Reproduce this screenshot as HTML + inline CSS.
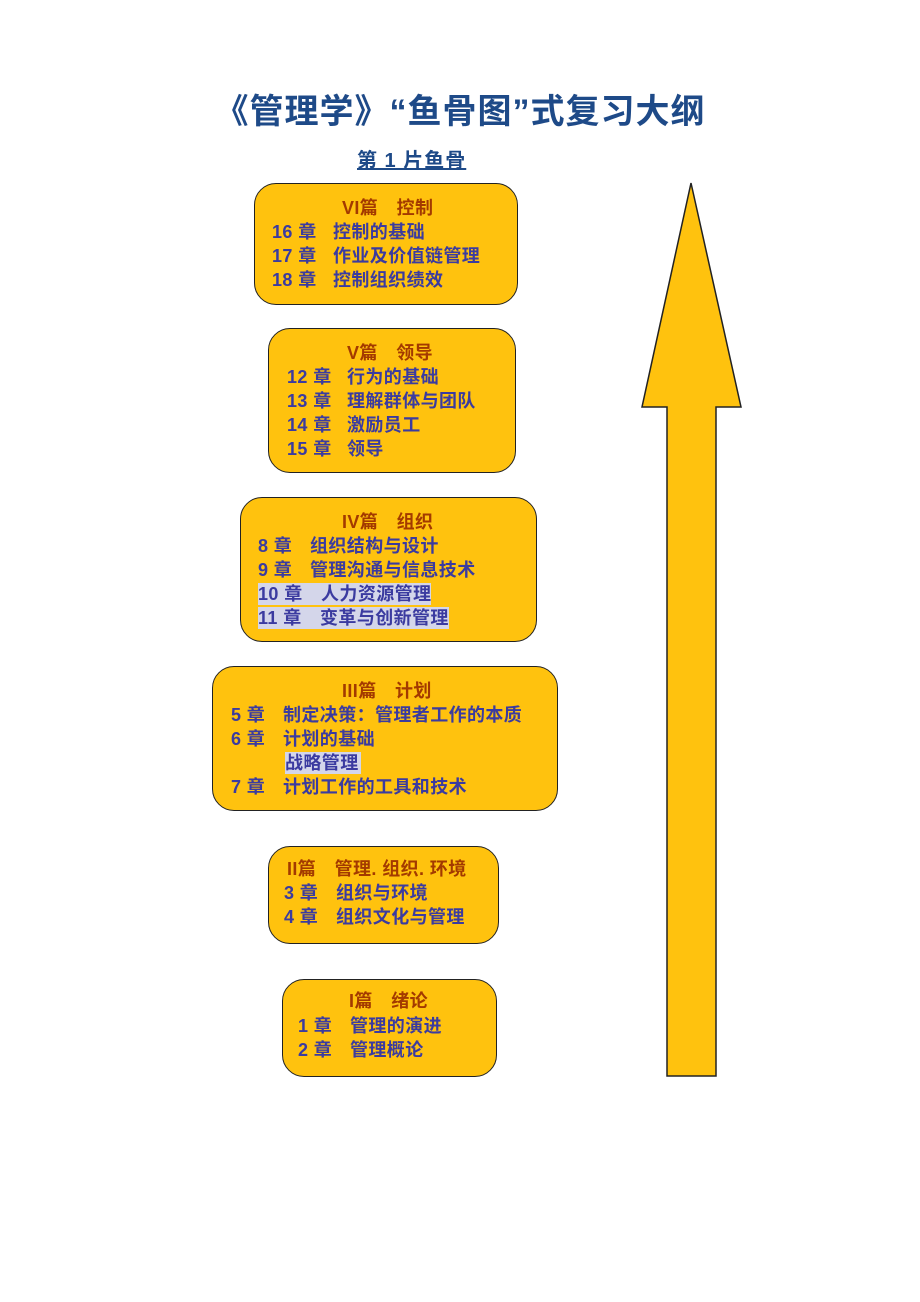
<!DOCTYPE html>
<html><head><meta charset="utf-8"><style>
body{margin:0;width:920px;height:1302px;background:#fff;position:relative;overflow:hidden;font-family:"Liberation Sans","Noto Sans CJK SC",sans-serif;}
.b{position:absolute;background:#FFC20E;border:1.5px solid #222;border-radius:22px;box-sizing:border-box;}
.t{position:absolute;font-size:18px;letter-spacing:0.4px;font-weight:bold;color:#3B3BA0;white-space:nowrap;line-height:22px;}
.h{color:#A33A00;}
.hl{background:#D4D6EA;}
</style></head><body>
<div class="t" style="left:0;width:920px;text-align:center;top:92px;font-size:34px;line-height:40px;color:#1E4A88;letter-spacing:1px">《管理学》“鱼骨图”式复习大纲</div>
<div class="t" style="left:357px;top:149px;font-size:20px;line-height:24px;color:#1E4A88;text-decoration:underline;letter-spacing:1px">第 1 片鱼骨</div>

<svg style="position:absolute;left:0;top:0" width="920" height="1302"><polygon points="691,183 741,407 716,407 716,1076 667,1076 667,407 642,407" fill="#FFC20E" stroke="#222" stroke-width="1.5"/></svg>

<div class="b" style="left:254px;top:183px;width:264px;height:122px"></div>
<div class="t h" style="left:342px;top:197px">VI篇　控制</div>
<div class="t" style="left:272px;top:221px">16 章</div><div class="t" style="left:333px;top:221px">控制的基础</div>
<div class="t" style="left:272px;top:245px">17 章</div><div class="t" style="left:333px;top:245px">作业及价值链管理</div>
<div class="t" style="left:272px;top:269px">18 章</div><div class="t" style="left:333px;top:269px">控制组织绩效</div>

<div class="b" style="left:268px;top:328px;width:248px;height:145px"></div>
<div class="t h" style="left:347px;top:342px">V篇　领导</div>
<div class="t" style="left:287px;top:366px">12 章</div><div class="t" style="left:347px;top:366px">行为的基础</div>
<div class="t" style="left:287px;top:390px">13 章</div><div class="t" style="left:347px;top:390px">理解群体与团队</div>
<div class="t" style="left:287px;top:414px">14 章</div><div class="t" style="left:347px;top:414px">激励员工</div>
<div class="t" style="left:287px;top:438px">15 章</div><div class="t" style="left:347px;top:438px">领导</div>

<div class="b" style="left:240px;top:497px;width:297px;height:145px"></div>
<div class="t h" style="left:342px;top:511px">IV篇　组织</div>
<div class="t" style="left:258px;top:535px">8 章</div><div class="t" style="left:310px;top:535px">组织结构与设计</div>
<div class="t" style="left:258px;top:559px">9 章</div><div class="t" style="left:310px;top:559px">管理沟通与信息技术</div>
<div class="t hl" style="left:258px;top:583px;width:173px;overflow:hidden">10 章　人力资源管理</div>
<div class="t hl" style="left:258px;top:607px;width:191px;overflow:hidden">11 章　变革与创新管理</div>

<div class="b" style="left:212px;top:666px;width:346px;height:145px"></div>
<div class="t h" style="left:342px;top:680px">III篇　计划</div>
<div class="t" style="left:231px;top:704px">5 章</div><div class="t" style="left:283px;top:704px">制定决策：管理者工作的本质</div>
<div class="t" style="left:231px;top:728px">6 章</div><div class="t" style="left:283px;top:728px">计划的基础</div>
<div class="t hl" style="left:285px;top:752px;padding-right:2px">战略管理</div>
<div class="t" style="left:231px;top:776px">7 章</div><div class="t" style="left:283px;top:776px">计划工作的工具和技术</div>

<div class="b" style="left:268px;top:846px;width:231px;height:98px"></div>
<div class="t h" style="left:287px;top:858px">II篇　管理. 组织. 环境</div>
<div class="t" style="left:284px;top:882px">3 章</div><div class="t" style="left:336px;top:882px">组织与环境</div>
<div class="t" style="left:284px;top:906px">4 章</div><div class="t" style="left:336px;top:906px">组织文化与管理</div>

<div class="b" style="left:282px;top:979px;width:215px;height:98px"></div>
<div class="t h" style="left:349px;top:990px">I篇　绪论</div>
<div class="t" style="left:298px;top:1015px">1 章</div><div class="t" style="left:350px;top:1015px">管理的演进</div>
<div class="t" style="left:298px;top:1039px">2 章</div><div class="t" style="left:350px;top:1039px">管理概论</div>
</body></html>
